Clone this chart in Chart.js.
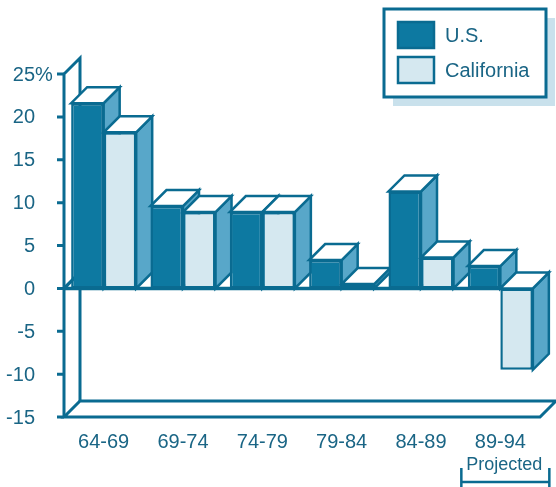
<!DOCTYPE html>
<html>
<head>
<meta charset="utf-8">
<script src="https://cdn.jsdelivr.net/npm/chart.js@4.4.1/dist/chart.umd.min.js"></script>
<style>
  html, body { margin: 0; padding: 0; background: #fff; }
  canvas { display: block; }
</style>
</head>
<body>
<canvas id="growthChart" width="556" height="487"></canvas>
<script>
// Growth by five-year period, percent
const periods = ['64-69', '69-74', '74-79', '79-84', '84-89', '89-94'];
const usGrowth = [21.6, 9.6, 8.9, 3.3, 11.3, 2.6];
const caGrowth = [18.2, 8.9, 8.9, 0.5, 3.6, -9.5];
const yTicks = [25, 20, 15, 10, 5, 0, -5, -10, -15];
const seriesNames = ['U.S.', 'California'];
const projectedNote = 'Projected';

const INK = '#0a6b91';
const TEXT = '#1a6585';
const DARK = '#0d79a1';
const LIGHT = '#d5e8f0';
const SIDE = '#58a7c9';
const SHADOW = '#c9e1ec';
const DX = 16, DY = -16;
const FONT = '"Liberation Sans", Arial, sans-serif';

// Walls, zero line and the side/top faces of each bar; fronts are drawn by Chart.js
const depthPlugin = {
    id: 'depth',
    beforeDatasetsDraw(chart) {
        const ctx = chart.ctx;
        const { left, right, top, bottom } = chart.chartArea;
        const yScale = chart.scales.y;
        const zero = yScale.getPixelForValue(0);

        ctx.save();
        ctx.strokeStyle = INK;
        ctx.lineWidth = 3;
        ctx.lineJoin = 'miter';

        // left wall
        ctx.beginPath();
        ctx.moveTo(left, bottom);
        ctx.lineTo(left, top);
        ctx.lineTo(left + DX, top + DY);
        ctx.lineTo(left + DX, bottom + DY);
        ctx.stroke();

        // floor
        ctx.beginPath();
        ctx.moveTo(left, bottom);
        ctx.lineTo(right, bottom);
        ctx.lineTo(right + DX, bottom + DY);
        ctx.lineTo(left + DX, bottom + DY);
        ctx.closePath();
        ctx.stroke();

        // tick marks
        ctx.beginPath();
        yTicks.forEach(v => {
            const py = yScale.getPixelForValue(v);
            ctx.moveTo(left - 7, py);
            ctx.lineTo(left, py);
        });
        ctx.stroke();

        // zero plane edge
        ctx.lineWidth = 3.5;
        ctx.beginPath();
        ctx.moveTo(left, zero);
        ctx.lineTo(right, zero);
        ctx.moveTo(left, zero);
        ctx.lineTo(left + DX, zero + DY);
        ctx.stroke();

        // side and top faces, left to right
        ctx.lineWidth = 2.5;
        chart.data.labels.forEach((_, i) => {
            chart.data.datasets.forEach((ds, d) => {
                const el = chart.getDatasetMeta(d).data[i];
                const xl = el.x - el.width / 2;
                const xr = el.x + el.width / 2;
                const yt = Math.min(el.y, el.base);
                const yb = Math.max(el.y, el.base);

                ctx.fillStyle = SIDE;
                ctx.beginPath();
                ctx.moveTo(xr, yt);
                ctx.lineTo(xr + DX, yt + DY);
                ctx.lineTo(xr + DX, yb + DY);
                ctx.lineTo(xr, yb);
                ctx.closePath();
                ctx.fill();
                ctx.stroke();

                ctx.fillStyle = '#fff';
                ctx.beginPath();
                ctx.moveTo(xl, yt);
                ctx.lineTo(xr, yt);
                ctx.lineTo(xr + DX, yt + DY);
                ctx.lineTo(xl + DX, yt + DY);
                ctx.closePath();
                ctx.fill();
                ctx.stroke();
            });
        });
        ctx.restore();
    },

    afterDraw(chart) {
        const ctx = chart.ctx;
        const { left } = chart.chartArea;
        const xScale = chart.scales.x;
        const yScale = chart.scales.y;

        ctx.save();
        ctx.fillStyle = TEXT;
        ctx.font = '20px ' + FONT;
        ctx.textBaseline = 'middle';

        // y labels, numbers aligned with the % hanging past them
        yTicks.forEach((v, i) => {
            const py = yScale.getPixelForValue(v) + 1;
            ctx.textAlign = 'right';
            ctx.fillText(String(v), left - 29, py);
            if (i === 0) {
                ctx.textAlign = 'left';
                ctx.fillText('%', left - 29, py);
            }
        });

        // category labels
        ctx.textAlign = 'center';
        ctx.textBaseline = 'alphabetic';
        periods.forEach((p, i) => {
            ctx.fillText(p, xScale.getPixelForValue(i), 448);
        });

        // projected bracket under the last period
        const cx = xScale.getPixelForValue(periods.length - 1) + 5;
        ctx.font = '18px ' + FONT;
        ctx.fillText(projectedNote, cx - 1, 470);
        ctx.strokeStyle = INK;
        ctx.lineWidth = 2.5;
        ctx.beginPath();
        ctx.moveTo(cx - 44, 482);
        ctx.lineTo(cx + 44, 482);
        ctx.moveTo(cx - 44, 468);
        ctx.lineTo(cx - 44, 487);
        ctx.moveTo(cx + 44, 468);
        ctx.lineTo(cx + 44, 487);
        ctx.stroke();

        // legend box with drop shadow
        const lx = chart.width - 172, ly = 9, lw = 162, lh = 88;
        ctx.fillStyle = SHADOW;
        ctx.fillRect(lx + 9, ly + 9, lw, lh);
        ctx.fillStyle = '#fff';
        ctx.fillRect(lx, ly, lw, lh);
        ctx.lineWidth = 3;
        ctx.strokeRect(lx, ly, lw, lh);

        ctx.font = '20px ' + FONT;
        ctx.textAlign = 'left';
        chart.data.datasets.forEach((ds, d) => {
            const sy = ly + 13 + d * 35;
            ctx.fillStyle = ds.backgroundColor;
            ctx.fillRect(lx + 14, sy, 36, 26);
            ctx.lineWidth = 2.5;
            ctx.strokeRect(lx + 14, sy, 36, 26);
            ctx.fillStyle = TEXT;
            ctx.fillText(ds.label, lx + 61, sy + 20);
        });
        ctx.restore();
    }
};

new Chart(document.getElementById('growthChart'), {
    type: 'bar',
    data: {
        labels: periods,
        datasets: [
            { label: seriesNames[0], data: usGrowth, backgroundColor: DARK },
            { label: seriesNames[1], data: caGrowth, backgroundColor: LIGHT }
        ]
    },
    options: {
        responsive: false,
        animation: false,
        devicePixelRatio: 1,
        layout: { padding: { left: 64, right: 16, top: 74, bottom: 70 } },
        datasets: {
            bar: {
                borderColor: INK,
                borderWidth: 2.5,
                borderSkipped: false,
                categoryPercentage: 0.82,
                barPercentage: 1
            }
        },
        scales: {
            x: { display: false },
            y: { display: false, min: -15, max: 25 }
        },
        plugins: {
            legend: { display: false },
            tooltip: { enabled: false }
        }
    },
    plugins: [depthPlugin]
});
</script>
</body>
</html>
